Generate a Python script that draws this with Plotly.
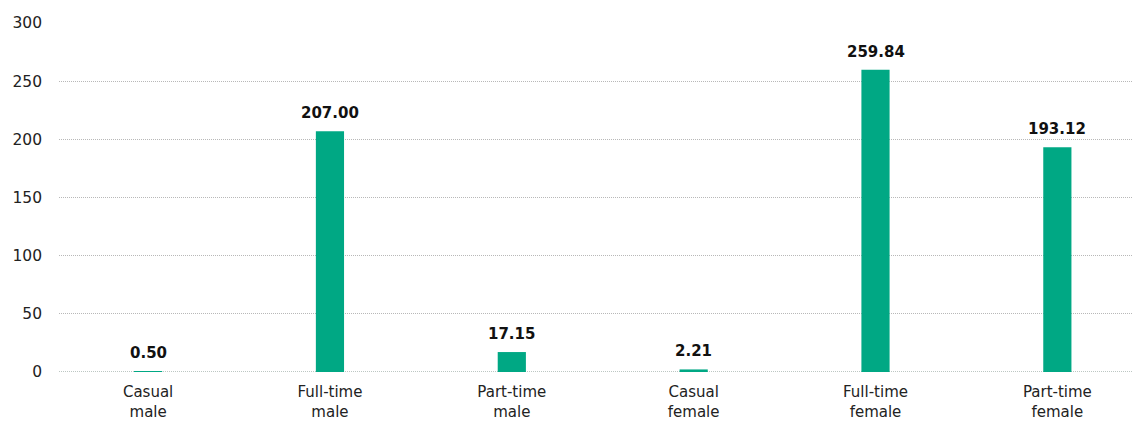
import plotly.graph_objects as go

categories = ["Casual<br>male", "Full-time<br>male", "Part-time<br>male",
              "Casual<br>female", "Full-time<br>female", "Part-time<br>female"]
values = [0.50, 207.00, 17.15, 2.21, 259.84, 193.12]
value_labels = ["0.50", "207.00", "17.15", "2.21", "259.84", "193.12"]
y_ticks = [0, 50, 100, 150, 200, 250, 300]

FONT = "DejaVu Sans, sans-serif"

fig = go.Figure(go.Bar(
    x=categories, y=values, marker_color="#00a884", width=0.155,
    marker_line=dict(width=0), hoverinfo="skip",
))

for c, v, lab in zip(categories, values, value_labels):
    fig.add_annotation(x=c, y=v, text="<b>%s</b>" % lab, showarrow=False,
                       yanchor="bottom", yshift=7,
                       font=dict(family=FONT, size=15, color="#111111"))

# dotted baseline at zero (drawn beneath the bars)
fig.add_shape(type="line", xref="paper", yref="y", x0=0, x1=1, y0=0, y1=0,
              line=dict(color="#7a8f86", width=1, dash="1px,1px"), layer="below")

fig.update_layout(
    width=1133, height=413,
    margin=dict(l=51, r=0, t=15, b=49),
    plot_bgcolor="white", paper_bgcolor="white",
    showlegend=False,
    font=dict(family=FONT, size=15, color="#222222"),
    xaxis=dict(range=[-0.49, 5.46], showgrid=False, showline=False, ticks="",
               ticklabelstandoff=9,
               tickfont=dict(family=FONT, size=15, color="#222222")),
    yaxis=dict(range=[0, 300], tickvals=y_ticks, showgrid=True, gridcolor="#b8b8b8",
               griddash="1px,1px", gridwidth=1, zeroline=False, showline=False,
               ticks="", ticklabelstandoff=16,
               tickfont=dict(family=FONT, size=15.5, color="#222222")),
)

fig.write_html("out.html")
